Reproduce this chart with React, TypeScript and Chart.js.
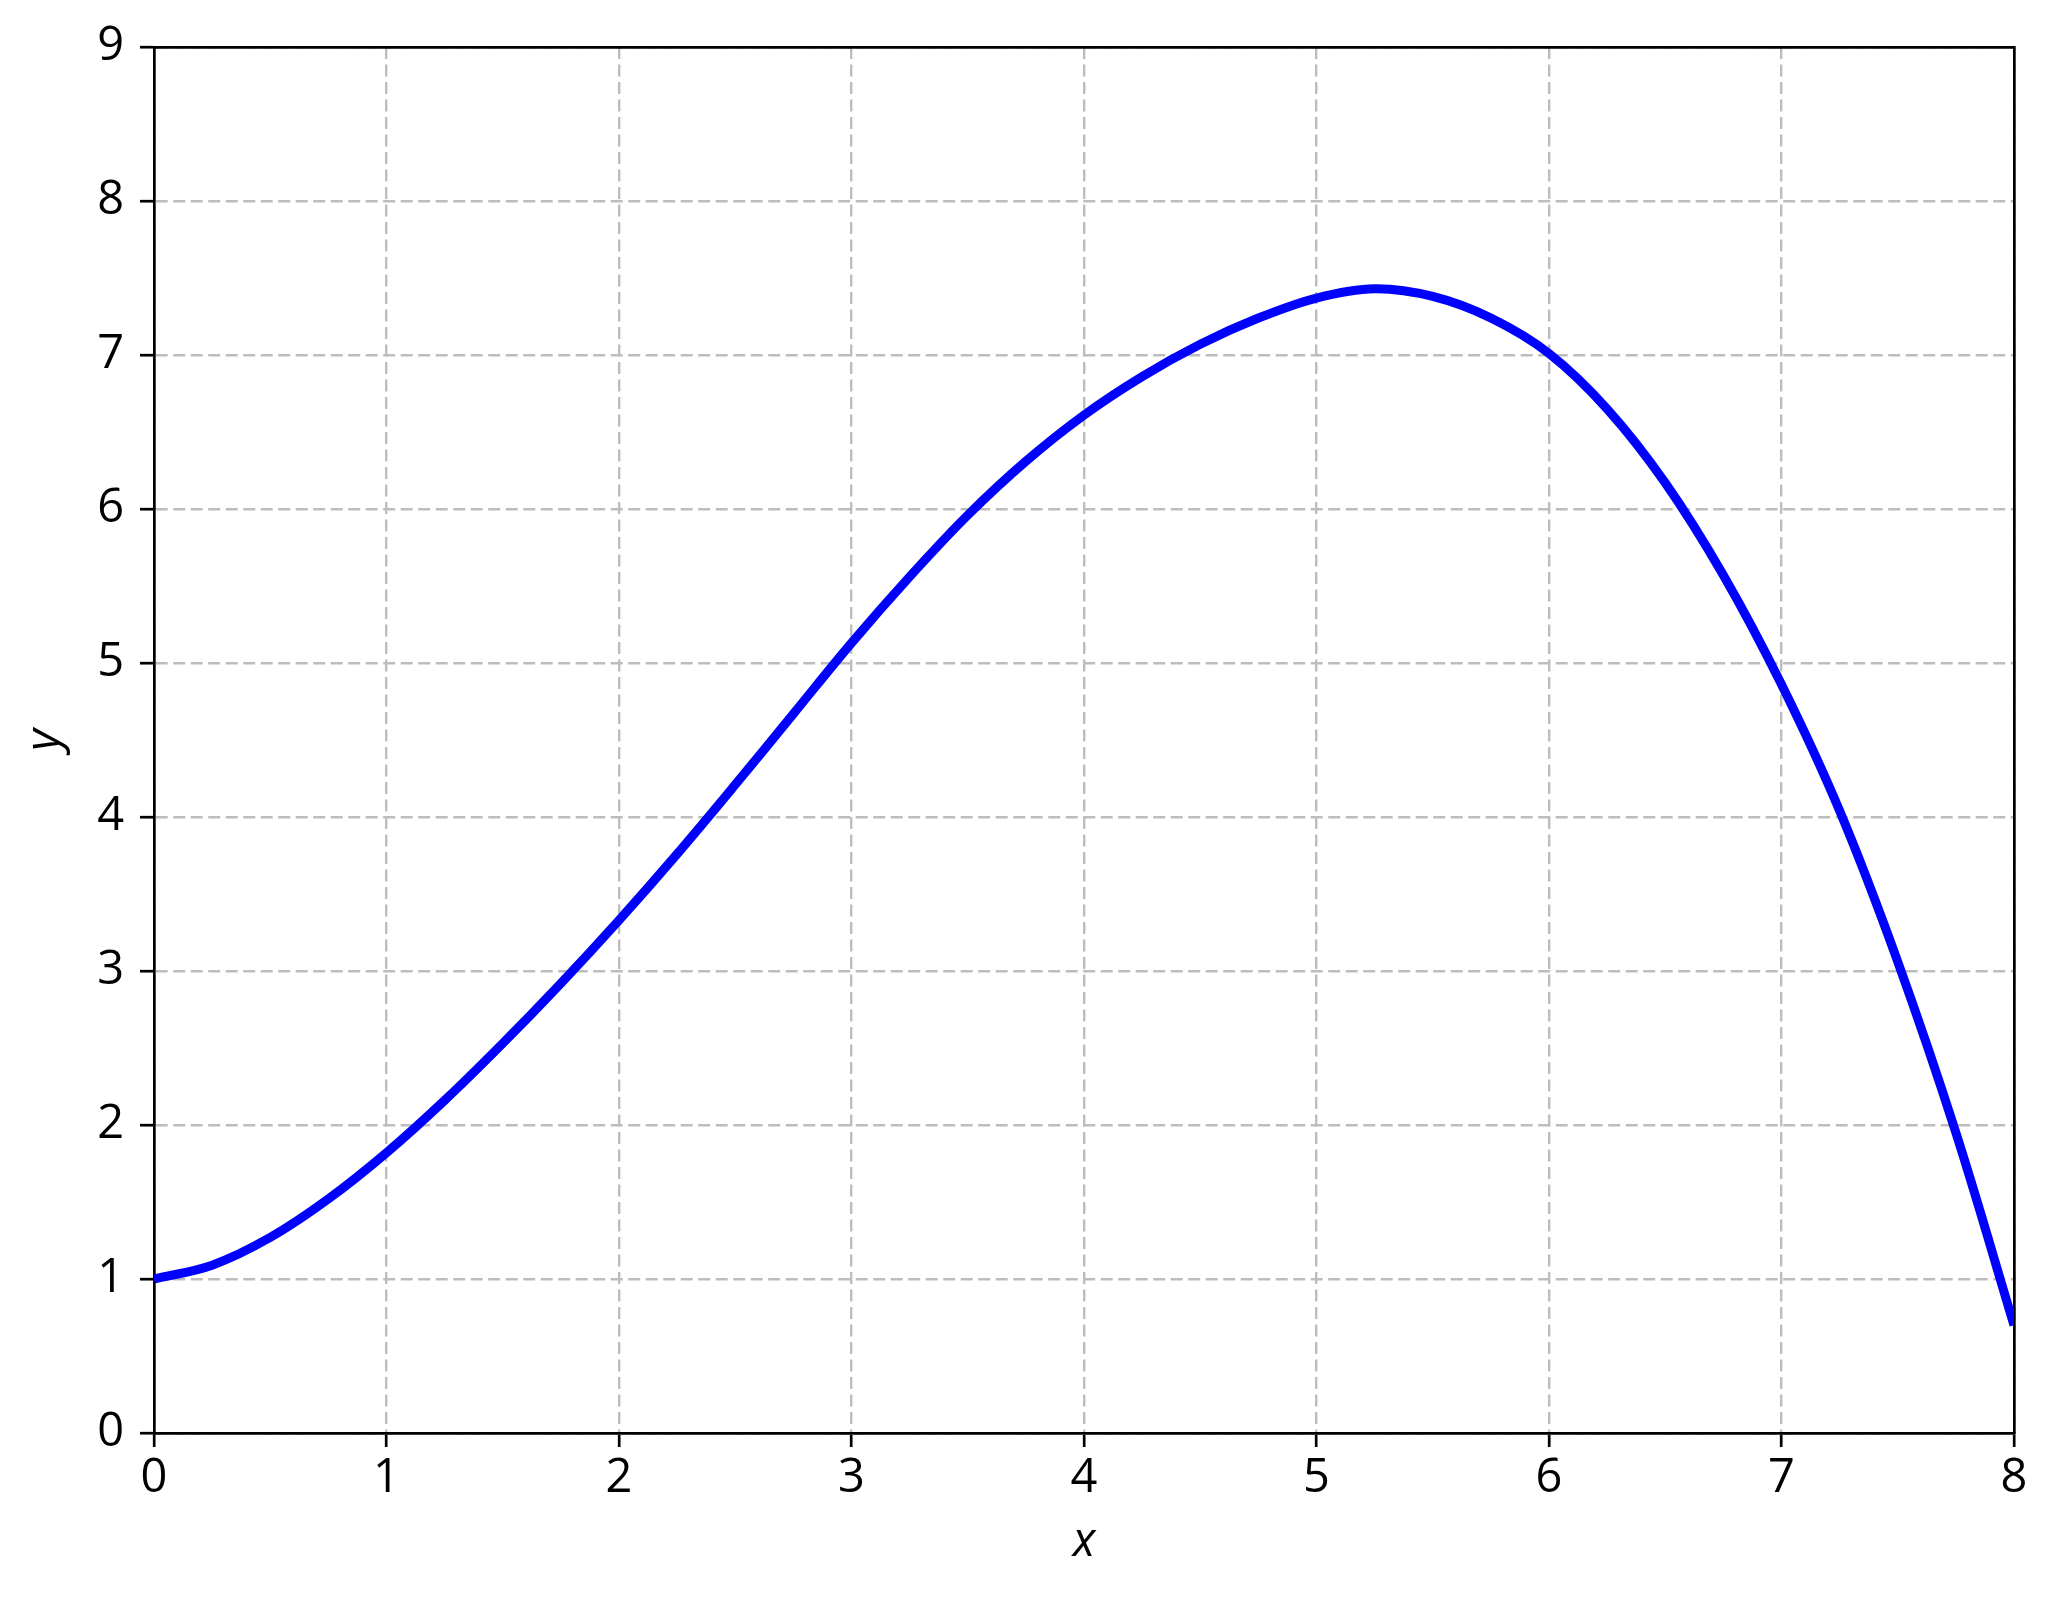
import { useEffect, useRef } from "react";
import { Chart, registerables, ChartOptions, ChartData } from "chart.js";

Chart.register(...registerables);

// curve, x every 0.25
const xValues = [
  0, 0.25, 0.5, 0.75, 1, 1.25, 1.5, 1.75, 2, 2.25, 2.5, 2.75, 3, 3.25, 3.5, 3.75, 4,
  4.25, 4.5, 4.75, 5, 5.25, 5.5, 5.75, 6, 6.25, 6.5, 6.75, 7, 7.25, 7.5, 7.75, 8,
];
const yValues = [
  1.0, 1.09, 1.27, 1.52, 1.82, 2.16, 2.53, 2.92, 3.33, 3.76, 4.21, 4.67, 5.13, 5.56, 5.96, 6.31, 6.61,
  6.86, 7.07, 7.24, 7.37, 7.43, 7.38, 7.24, 7.01, 6.65, 6.17, 5.57, 4.86, 4.04, 3.06, 1.95, 0.7,
];

const xRange = [0, 8];
const yRange = [0, 9];
const xTitle = "x";
const yTitle = "y";

const FONT = "'Open Sans', 'DejaVu Sans', sans-serif";
const AXIS_W = 2.7;
const GRID = "#bdbdbd";

export default function App() {
  const ref = useRef<HTMLCanvasElement | null>(null);

  useEffect(() => {
    if (!ref.current) return;

    const data: ChartData<"line", { x: number; y: number }[]> = {
      datasets: [
        {
          data: xValues.map((x, i) => ({ x, y: yValues[i] })),
          borderColor: "#0000ff",
          borderWidth: 9,
          pointRadius: 0,
          tension: 0.35,
          fill: false,
        },
      ],
    };

    const tickFont = { family: FONT, size: 47 };
    const titleFont = { family: FONT, size: 47, style: "italic" as const };

    const options: ChartOptions<"line"> = {
      animation: false,
      responsive: true,
      maintainAspectRatio: false,
      layout: { padding: 0 },
      plugins: { legend: { display: false }, tooltip: { enabled: false } },
      scales: {
        x: {
          type: "linear",
          position: "bottom",
          min: xRange[0],
          max: xRange[1],
          ticks: { stepSize: 1, font: tickFont, color: "#000", padding: 3, maxRotation: 0 },
          grid: {
            color: GRID,
            lineWidth: 2.4,
            tickLength: 14,
            tickColor: "#000",
            tickWidth: AXIS_W,
            tickBorderDash: [],
          },
          border: { display: true, color: "#000", width: AXIS_W, dash: [12, 5.5] },
          title: { display: true, text: xTitle, font: titleFont, color: "#000", padding: { bottom: 30 } },
          afterFit: (s) => {
            s.height = 168;
          },
        },
        y: {
          type: "linear",
          position: "left",
          min: yRange[0],
          max: yRange[1],
          ticks: { stepSize: 1, font: tickFont, color: "#000", padding: 16 },
          grid: {
            color: GRID,
            lineWidth: 2.4,
            tickLength: 14,
            tickColor: "#000",
            tickWidth: AXIS_W,
            tickBorderDash: [],
          },
          border: { display: true, color: "#000", width: AXIS_W, dash: [12, 5.5] },
          title: { display: true, text: yTitle, font: titleFont, color: "#000", padding: { top: 17 } },
          afterFit: (s) => {
            s.width = 154;
          },
        },
        // frame on top and right
        xTop: {
          type: "linear",
          position: "top",
          min: xRange[0],
          max: xRange[1],
          ticks: { display: false },
          grid: { display: false, drawTicks: false },
          border: { display: true, color: "#000", width: AXIS_W },
          afterFit: (s) => {
            s.height = 47;
          },
        },
        yRight: {
          type: "linear",
          position: "right",
          min: yRange[0],
          max: yRange[1],
          ticks: { display: false },
          grid: { display: false, drawTicks: false },
          border: { display: true, color: "#000", width: AXIS_W },
          afterFit: (s) => {
            s.width = 44;
          },
        },
      },
    };

    const chart = new Chart(ref.current, { type: "line", data, options });
    return () => chart.destroy();
  }, []);

  return (
    <div style={{ position: "absolute", left: 0, top: 0, width: 2058, height: 1601, background: "#fff" }}>
      <canvas ref={ref} />
    </div>
  );
}
